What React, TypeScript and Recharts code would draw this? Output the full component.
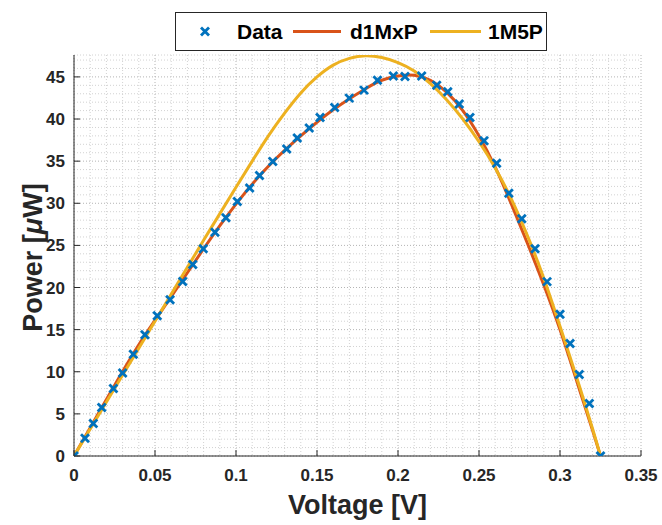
import { CartesianGrid, ComposedChart, Label, Line, Scatter, XAxis, YAxis } from 'recharts'

// measured points (voltage in V, power in µW)
const dataV = [
  0, 0.0068, 0.0119, 0.0171, 0.0243, 0.03, 0.0366, 0.0438, 0.0514, 0.0593, 0.0671, 0.0733,
  0.0798, 0.087, 0.0938, 0.1008, 0.1084, 0.1145, 0.1227, 0.1313, 0.1378, 0.1452, 0.1519,
  0.1609, 0.1699, 0.179, 0.1873, 0.1971, 0.2043, 0.2146, 0.2239, 0.2307, 0.2378, 0.2444,
  0.2531, 0.2609, 0.2684, 0.2764, 0.2846, 0.292, 0.3, 0.3062, 0.3119, 0.3181, 0.325,
]
const dataP = [
  0, 2.1, 3.87, 5.76, 8.0, 9.86, 12.08, 14.4, 16.65, 18.56, 20.72, 22.74,
  24.6, 26.56, 28.27, 30.2, 31.8, 33.3, 34.97, 36.44, 37.74, 38.93, 40.18,
  41.37, 42.48, 43.43, 44.6, 45.12, 45.04, 45.12, 44.02, 43.23, 41.77, 40.18,
  37.42, 34.75, 31.2, 28.15, 24.6, 20.7, 16.82, 13.35, 9.67, 6.24, 0,
]

// d1MxP model
const d1mxpV = [0, 0.02, 0.04, 0.06, 0.08, 0.1, 0.12, 0.14, 0.16, 0.18, 0.19, 0.2, 0.21, 0.22, 0.23, 0.24, 0.25, 0.26, 0.27, 0.28, 0.29, 0.3, 0.31, 0.32, 0.325]
const d1mxpP = [0, 6.7, 13.2, 18.9, 24.6, 29.9, 34.4, 38.0, 41.1, 43.6, 44.6, 45.1, 45.2, 44.6, 43.2, 41.0, 38.0, 34.3, 29.9, 25.2, 20.3, 15.0, 9.1, 3.1, 0]

// 1M5P model
const m5pV = [0, 0.02, 0.04, 0.06, 0.08, 0.1, 0.11, 0.12, 0.13, 0.14, 0.15, 0.16, 0.17, 0.18, 0.19, 0.2, 0.21, 0.22, 0.23, 0.24, 0.25, 0.26, 0.27, 0.28, 0.29, 0.3, 0.31, 0.32, 0.325]
const m5pP = [0, 6.4, 12.8, 19.2, 25.6, 31.9, 35.0, 38.0, 40.7, 43.1, 45.0, 46.4, 47.2, 47.5, 47.3, 46.7, 45.7, 44.2, 42.3, 40.0, 37.3, 34.2, 30.5, 26.1, 21.1, 15.4, 9.5, 3.3, 0]

const xMajor = [0, 0.05, 0.1, 0.15, 0.2, 0.25, 0.3, 0.35]
const yMajor = [0, 5, 10, 15, 20, 25, 30, 35, 40, 45]
const xMinor = Array.from({ length: 36 }, (_, i) => i / 100)
const yMinor = Array.from({ length: 48 }, (_, i) => i)

const dataPts = dataV.map((v, i) => ({ v, p: dataP[i] }))
const d1mxpPts = d1mxpV.map((v, i) => ({ v, p: d1mxpP[i] }))
const m5pPts = m5pV.map((v, i) => ({ v, p: m5pP[i] }))

const BLUE = '#0072BD'
const ORANGE = '#D95319'
const YELLOW = '#EDB120'
const INK = '#262626'
const FONT = '"Liberation Sans", Arial, sans-serif'

const isMajor = (list: number[], v: number) => list.some((m) => Math.abs(m - v) < 1e-9)

function XTick({ x, y, payload }: any) {
  if (!isMajor(xMajor, payload.value)) return <g />
  return (
    <g>
      <line x1={x} y1={y} x2={x} y2={y - 6} stroke={INK} strokeWidth={1} />
      <text x={x} y={y + 25} textAnchor="middle" fontFamily={FONT} fontWeight="bold" fontSize={17} fill={INK}>
        {String(payload.value)}
      </text>
    </g>
  )
}

function YTick({ x, y, payload }: any) {
  if (!isMajor(yMajor, payload.value)) return <g />
  return (
    <g>
      <line x1={x} y1={y} x2={x + 6} y2={y} stroke={INK} strokeWidth={1} />
      <text x={x - 9} y={y + 6} textAnchor="end" fontFamily={FONT} fontWeight="bold" fontSize={17} fill={INK}>
        {String(payload.value)}
      </text>
    </g>
  )
}

function gridLine() {
  return (p: any) => {
    const major = p.index % 5 === 0
    return (
      <line
        key={p.key}
        x1={p.x1}
        y1={p.y1}
        x2={p.x2}
        y2={p.y2}
        stroke={major ? '#b4b4b4' : '#d2d2d2'}
        strokeWidth={1}
        strokeDasharray="1 2"
      />
    )
  }
}

function XMark({ cx, cy }: any) {
  const s = 4
  return (
    <g stroke={BLUE} strokeWidth={2.8}>
      <line x1={cx - s} y1={cy - s} x2={cx + s} y2={cy + s} />
      <line x1={cx - s} y1={cy + s} x2={cx + s} y2={cy - s} />
    </g>
  )
}

function LegendBox() {
  return (
    <svg width={372} height={39} style={{ position: 'absolute', left: 175, top: 12, background: '#fff' }}>
      <rect x={0.5} y={0.5} width={371} height={38} fill="#fff" stroke={INK} strokeWidth={1} />
      <XMark cx={30} cy={19.5} />
      <line x1={118} y1={19.5} x2={166} y2={19.5} stroke={ORANGE} strokeWidth={3} />
      <line x1={255} y1={19.5} x2={306} y2={19.5} stroke={YELLOW} strokeWidth={3} />
      <g fontFamily={FONT} fontWeight="bold" fontSize={21} fill="#000">
        <text x={62} y={27}>Data</text>
        <text x={175} y={27}>d1MxP</text>
        <text x={313} y={27}>1M5P</text>
      </g>
    </svg>
  )
}

export default function App() {
  return (
    <div style={{ position: 'absolute', left: 0, top: 0, width: 662, height: 525, background: '#fff' }}>
      <ComposedChart width={662} height={525} margin={{ top: 55, right: 21, bottom: 29, left: 14 }}>
        <CartesianGrid horizontal={gridLine()} vertical={gridLine()} />
        <XAxis
          dataKey="v"
          type="number"
          domain={[0, 0.35]}
          ticks={xMinor}
          interval={0}
          tick={<XTick />}
          tickLine={false}
          tickSize={0}
          tickMargin={0}
          height={40}
          stroke={INK}
          allowDataOverflow
        >
          <Label
            content={({ viewBox }: any) => (
              <text
                x={viewBox.x + viewBox.width / 2}
                y={viewBox.y + 58}
                textAnchor="middle"
                fontFamily={FONT}
                fontWeight="bold"
                fontSize={27}
                fill={INK}
              >
                Voltage [V]
              </text>
            )}
          />
        </XAxis>
        <YAxis
          type="number"
          domain={[0, 47.6]}
          ticks={yMinor}
          interval={0}
          tick={<YTick />}
          tickLine={false}
          tickSize={0}
          tickMargin={0}
          width={60}
          stroke={INK}
          allowDataOverflow
        >
          <Label
            content={({ viewBox }: any) => {
              const cx = 33
              const cy = viewBox.y + viewBox.height / 2 + 2
              return (
                <text
                  x={cx}
                  y={cy}
                  transform={`rotate(-90 ${cx} ${cy})`}
                  textAnchor="middle"
                  dominantBaseline="central"
                  fontFamily={FONT}
                  fontWeight="bold"
                  fontSize={27}
                  fill={INK}
                >
                  Power [<tspan fontStyle="italic">μ</tspan>W]
                </text>
              )
            }}
          />
        </YAxis>
        <Scatter data={dataPts} dataKey="p" shape={<XMark />} isAnimationActive={false} />
        <Line data={d1mxpPts} dataKey="p" type="natural" stroke={ORANGE} strokeWidth={3} dot={false} activeDot={false} isAnimationActive={false} />
        <Line data={m5pPts} dataKey="p" type="natural" stroke={YELLOW} strokeWidth={3} dot={false} activeDot={false} isAnimationActive={false} />
      </ComposedChart>
      <LegendBox />
    </div>
  )
}
